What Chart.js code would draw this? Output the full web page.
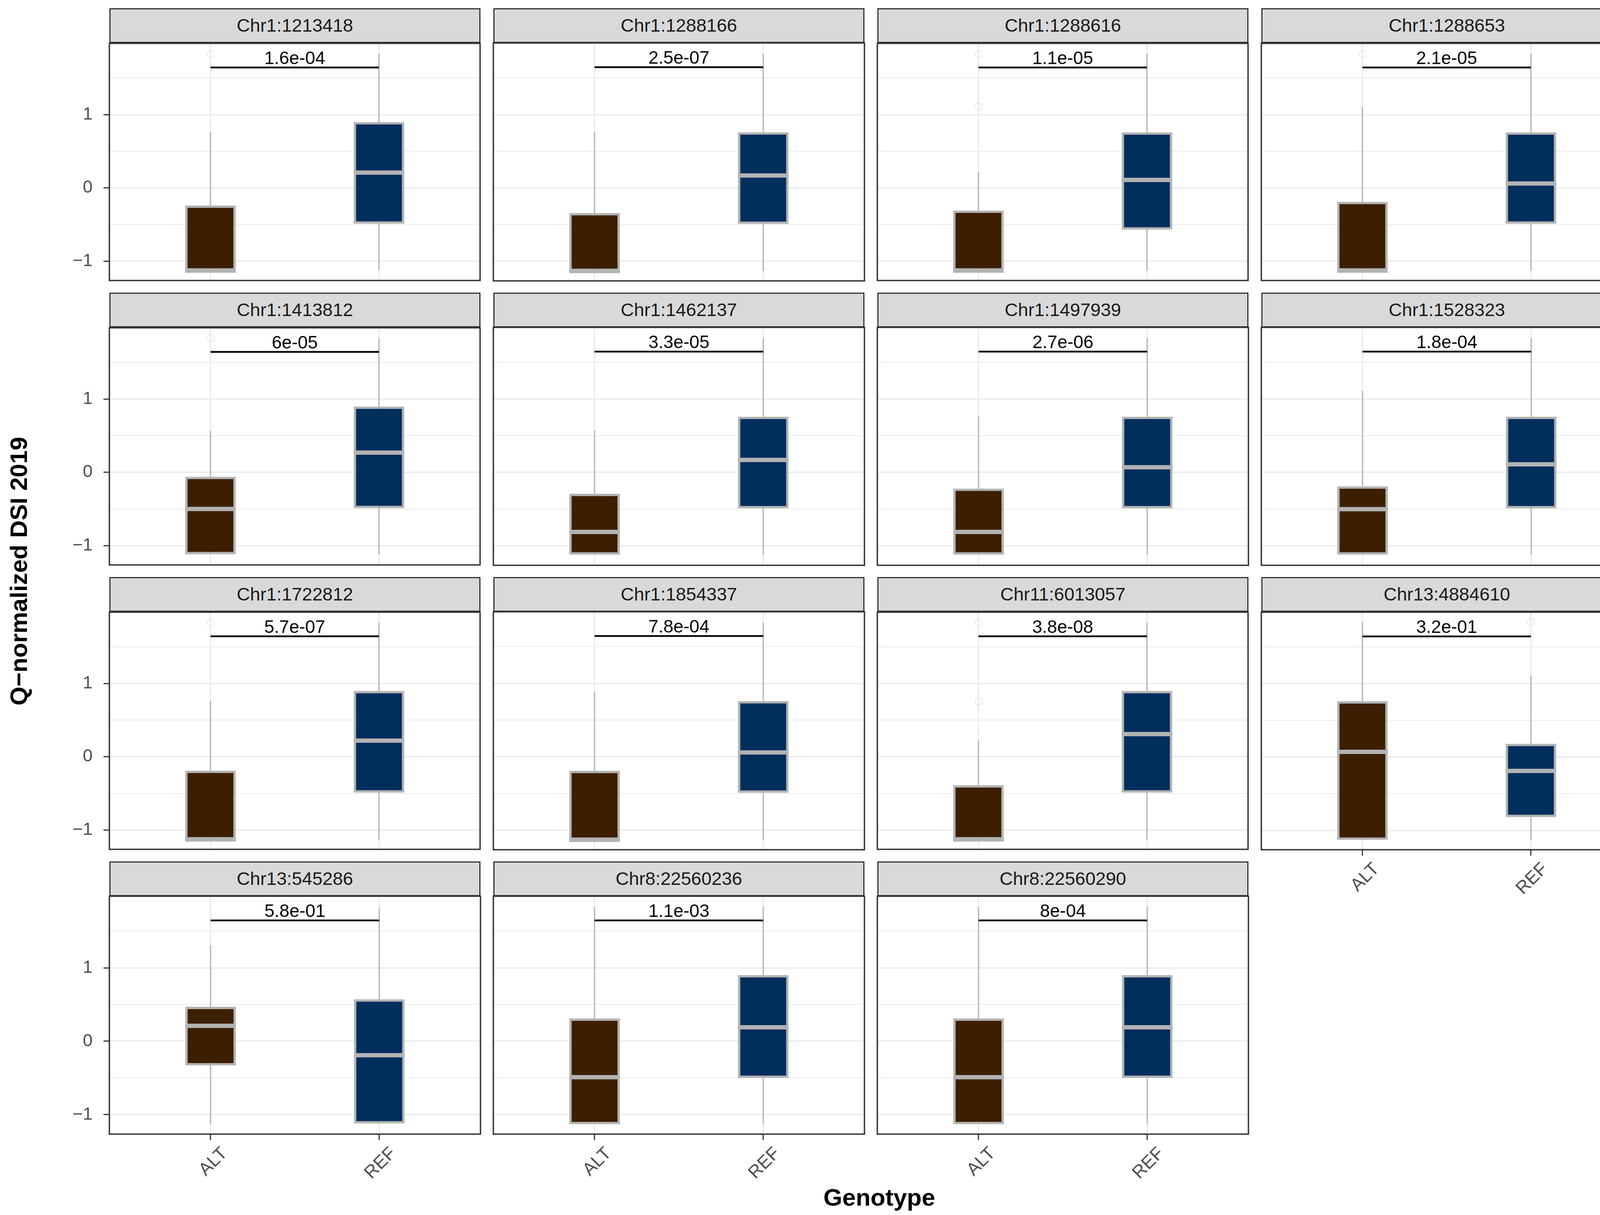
<!DOCTYPE html>
<html>
<head>
<meta charset="utf-8">
<script src="https://cdn.jsdelivr.net/npm/chart.js@4.4.1/dist/chart.umd.min.js"></script>
<style>
    body { margin: 0; background: #fff; }
    #page { position: relative; width: 4205px; height: 3110px; overflow: hidden; font-family: "Liberation Sans", Arial, sans-serif; }
    .strip { position: absolute; box-sizing: border-box; background: #d9d9d9; border: 3.5px solid #333; color: #1a1a1a; font-size: 47px; text-align: center; line-height: 82px; }
    canvas { position: absolute; }
    .title { position: absolute; font-weight: bold; font-size: 62px; line-height: 70px; color: #000; white-space: nowrap; }
</style>
</head>
<body>
<div id="page"></div>
<script>
// facets and test results
var snps = ['Chr1:1213418', 'Chr1:1288166', 'Chr1:1288616', 'Chr1:1288653', 'Chr1:1413812',
    'Chr1:1462137', 'Chr1:1497939', 'Chr1:1528323', 'Chr1:1722812', 'Chr1:1854337',
    'Chr11:6013057', 'Chr13:4884610', 'Chr13:545286', 'Chr8:22560236', 'Chr8:22560290'];
var pValues = ['1.6e-04', '2.5e-07', '1.1e-05', '2.1e-05', '6e-05', '3.3e-05', '2.7e-06', '1.8e-04',
    '5.7e-07', '7.8e-04', '3.8e-08', '3.2e-01', '5.8e-01', '1.1e-03', '8e-04'];
var genotypes = ['ALT', 'REF'];
var yTicks = [-1, -0.5, 0, 0.5, 1, 1.5];

// ALT box stats
var altLower = [-1.13, -1.13, -1.13, -1.13, -1.12, -1.12, -1.12, -1.12, -1.13, -1.13, -1.13, -1.13, -1.13, -1.13, -1.13];
var altQ1 = [-1.13, -1.13, -1.13, -1.13, -1.12, -1.12, -1.12, -1.12, -1.13, -1.13, -1.13, -1.13, -0.33, -1.13, -1.13];
var altMedian = [-1.13, -1.13, -1.13, -1.13, -0.50, -0.81, -0.81, -0.50, -1.13, -1.13, -1.13, 0.07, 0.21, -0.49, -0.49];
var altQ3 = [-0.24, -0.34, -0.31, -0.19, -0.06, -0.29, -0.22, -0.19, -0.19, -0.19, -0.39, 0.76, 0.47, 0.31, 0.31];
var altUpper = [0.76, 0.76, 0.22, 1.11, 0.57, 0.57, 0.76, 1.11, 0.76, 0.89, 0.22, 1.84, 1.31, 1.83, 1.83];
var altOutliers = [[1.83], [], [1.11, 1.83], [1.83], [1.83], [], [], [], [1.83], [], [0.76, 1.83], [], [], [], []];

// REF box stats
var refLower = [-1.12, -1.13, -1.13, -1.13, -1.12, -1.12, -1.12, -1.12, -1.13, -1.13, -1.13, -1.13, -1.12, -1.13, -1.13];
var refQ1 = [-0.49, -0.49, -0.57, -0.49, -0.49, -0.49, -0.49, -0.49, -0.49, -0.49, -0.49, -0.82, -1.12, -0.50, -0.50];
var refMedian = [0.21, 0.17, 0.11, 0.06, 0.27, 0.17, 0.07, 0.11, 0.22, 0.06, 0.31, -0.19, -0.19, 0.19, 0.19];
var refQ3 = [0.90, 0.76, 0.76, 0.76, 0.90, 0.76, 0.76, 0.76, 0.90, 0.76, 0.90, 0.18, 0.57, 0.90, 0.90];
var refUpper = [1.83, 1.83, 1.83, 1.83, 1.83, 1.83, 1.83, 1.83, 1.83, 1.83, 1.83, 1.11, 1.82, 1.83, 1.83];
var refOutliers = [[], [], [], [], [], [], [], [], [], [], [], [1.84], [], [], []];

// layout / style
var fills = ['#3c1f00', '#002e5d'];
var lineGray = '#b3b3b3';
var BOX_W = 0.3;
var BRACKET_Y = 1.645;
var Y_MIN = -1.265, Y_MAX = 1.975;
var PANEL_W = 950, PANEL_H = 609, STRIP_H = 89;
var COL_X0 = 280, COL_STEP = 983, ROW_Y0 = 21, ROW_STEP = 728;
var AXW = 140, PAD = 10, XAH = 200;

var page = document.getElementById('page');

function addTitle(text, css) {
    var d = document.createElement('div');
    d.className = 'title';
    d.textContent = text;
    Object.assign(d.style, css);
    page.appendChild(d);
}

function groupsFor(i) {
    return [
        { x: 1, lo: altLower[i], q1: altQ1[i], med: altMedian[i], q3: altQ3[i], hi: altUpper[i], out: altOutliers[i] },
        { x: 2, lo: refLower[i], q1: refQ1[i], med: refMedian[i], q3: refQ3[i], hi: refUpper[i], out: refOutliers[i] }
    ];
}

function buildDatasets(i) {
    var g = groupsFor(i);
    var sets = [];
    sets.push({
        type: 'bar',
        data: g.map(d => ({ x: d.x, y: [d.q1, d.q3] })),
        backgroundColor: fills,
        borderColor: lineGray,
        borderWidth: 6,
        borderSkipped: false,
        grouped: false,
        barPercentage: BOX_W,
        categoryPercentage: 1,
        order: 2
    });
    g.forEach(d => {
        // whisker behind the box
        sets.push({
            type: 'line',
            data: [{ x: d.x, y: d.lo }, { x: d.x, y: d.hi }],
            borderColor: lineGray, borderWidth: 3, pointRadius: 0, order: 3
        });
        // median bar across the box
        sets.push({
            type: 'line',
            data: [{ x: d.x - BOX_W / 2, y: d.med }, { x: d.x + BOX_W / 2, y: d.med }],
            borderColor: lineGray, borderWidth: 11, borderCapStyle: 'butt', pointRadius: 0, order: 1
        });
    });
    var pts = [];
    g.forEach(d => d.out.forEach(v => pts.push({ x: d.x, y: v })));
    sets.push({
        type: 'scatter',
        data: pts,
        pointRadius: 9,
        pointBorderWidth: 2,
        pointBorderColor: 'rgba(0,0,0,0.09)',
        pointBackgroundColor: 'rgba(0,0,0,0)',
        order: 4
    });
    sets.push({
        type: 'line',
        data: [{ x: 1, y: BRACKET_Y }, { x: 2, y: BRACKET_Y }],
        borderColor: '#000', borderWidth: 4.5, pointRadius: 0, order: 0
    });
    return sets;
}

function yLabel(v) {
    if (!Number.isInteger(v)) return '';
    return v < 0 ? '\u2212' + Math.abs(v) : String(v);
}

function makePanel(i) {
    var r = Math.floor(i / 4), c = i % 4;
    var isLeft = c == 0;
    var isBottom = i >= snps.length - 4;
    var left = COL_X0 + c * COL_STEP;
    var top = ROW_Y0 + r * ROW_STEP;

    var strip = document.createElement('div');
    strip.className = 'strip';
    strip.textContent = snps[i];
    Object.assign(strip.style, { left: left + 'px', top: top + 'px', width: PANEL_W + 'px', height: STRIP_H + 'px' });
    page.appendChild(strip);

    var cv = document.createElement('canvas');
    var w = AXW + PANEL_W + PAD;
    var h = PAD + PANEL_H + (isBottom ? XAH : PAD);
    cv.width = w; cv.height = h;
    Object.assign(cv.style, { left: (left - AXW) + 'px', top: (top + STRIP_H - PAD) + 'px', width: w + 'px', height: h + 'px' });
    page.appendChild(cv);

    var deco = {
        id: 'deco' + i,
        afterDatasetsDraw(chart) {
            var ctx = chart.ctx, x = chart.scales.x, y = chart.scales.y;
            ctx.save();
            ctx.font = '46px "Liberation Sans", Arial, sans-serif';
            ctx.fillStyle = '#000';
            ctx.textAlign = 'center';
            ctx.textBaseline = 'alphabetic';
            ctx.fillText(pValues[i], (x.getPixelForValue(1) + x.getPixelForValue(2)) / 2, y.getPixelForValue(BRACKET_Y) - 9);
            ctx.restore();
        },
        afterDraw(chart) {
            var a = chart.chartArea, ctx = chart.ctx;
            ctx.save();
            ctx.strokeStyle = '#333';
            ctx.lineWidth = 3.5;
            ctx.strokeRect(a.left, a.top, a.right - a.left, a.bottom - a.top);
            ctx.restore();
        }
    };

    new Chart(cv.getContext('2d'), {
        type: 'bar',
        data: { datasets: buildDatasets(i) },
        options: {
            responsive: false,
            animation: false,
            events: [],
            layout: { padding: { top: PAD, right: PAD, left: 0, bottom: 0 } },
            plugins: { legend: { display: false }, tooltip: { enabled: false } },
            scales: {
                x: {
                    type: 'linear',
                    min: 0.4, max: 2.6,
                    offset: false,
                    afterBuildTicks: s => { s.ticks = genotypes.map((g, k) => ({ value: k + 1 })); },
                    afterFit: s => {
                        s.height = isBottom ? XAH : PAD;
                        s.paddingLeft = 0; s.paddingRight = 0; s.paddingTop = 0; s.paddingBottom = 0;
                    },
                    border: { display: false },
                    grid: {
                        offset: false,
                        color: '#ebebeb',
                        lineWidth: 3.5,
                        drawTicks: isBottom,
                        tickLength: 15,
                        tickColor: '#333',
                        tickWidth: 3
                    },
                    ticks: {
                        display: isBottom,
                        minRotation: 45, maxRotation: 45,
                        padding: 8,
                        labelOffset: 36,
                        color: '#4d4d4d',
                        font: { family: 'Liberation Sans', size: 46 },
                        callback: v => genotypes[v - 1]
                    }
                },
                y: {
                    min: Y_MIN, max: Y_MAX,
                    afterBuildTicks: s => { s.ticks = yTicks.map(v => ({ value: v })); },
                    afterFit: s => {
                        s.width = AXW;
                        s.paddingLeft = 0; s.paddingRight = 0; s.paddingTop = 0; s.paddingBottom = 0;
                    },
                    border: { display: false },
                    grid: {
                        color: '#ebebeb',
                        lineWidth: ctx => Number.isInteger(ctx.tick.value) ? 3.5 : 2,
                        drawTicks: isLeft,
                        tickLength: 15,
                        tickWidth: 3,
                        tickColor: ctx => Number.isInteger(ctx.tick.value) ? '#333' : 'rgba(0,0,0,0)'
                    },
                    ticks: {
                        display: isLeft,
                        padding: 28,
                        color: '#4d4d4d',
                        font: { family: 'Liberation Sans', size: 45 },
                        callback: v => yLabel(v)
                    }
                }
            }
        },
        plugins: [deco]
    });
}

for (var i = 0; i < snps.length; i++) {
    makePanel(i);
}

addTitle('Genotype', { left: '2251px', top: '3030px', transform: 'translateX(-50%)' });
addTitle('Q\u2212normalized DSI 2019', { left: '48px', top: '1462px', transform: 'translate(-50%,-50%) rotate(-90deg)' });
</script>
</body>
</html>
